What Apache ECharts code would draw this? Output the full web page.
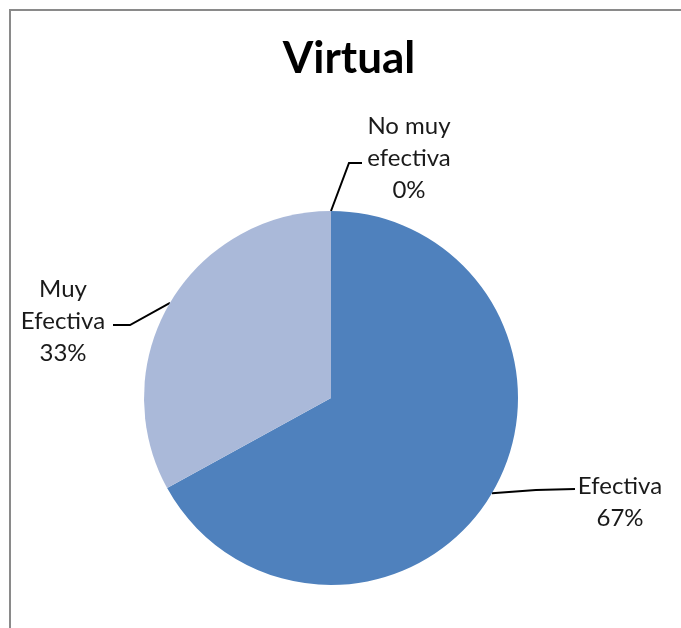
<!DOCTYPE html>
<html>
<head>
<meta charset="utf-8">
<script src="https://cdn.jsdelivr.net/npm/echarts@6/dist/echarts.min.js"></script>
<style>
  html, body { margin: 0; padding: 0; background: #fff; }
  #frame { position: absolute; left: 9px; top: 9px; width: 672px; height: 619px;
           border-left: 2px solid #8a8a8a; border-top: 2px solid #8a8a8a; }
  #chart { position: absolute; left: 0; top: 0; width: 681px; height: 628px; }
</style>
</head>
<body>
<div id="frame"></div>
<div id="chart"></div>
<script>
const chartTitle = 'Virtual';
const categories = ['Efectiva', 'Muy Efectiva', 'No muy efectiva'];
const values = [67, 33, 0];
const colors = ['#4F81BD', '#AAB9D9', '#9BBB59'];

const chart = echarts.init(document.getElementById('chart'), null, { renderer: 'canvas' });

// label placements (layout only)
const labelPos = [
  { x: 620, y: 502, line: [[536, 490], [575, 489]] },
  { x: 63, y: 321, line: [[130, 325], [113, 325]] },
  { x: 409, y: 158, line: [[349, 163], [362, 163]] }
];

chart.setOption({
  backgroundColor: 'transparent',
  animation: false,
  title: {
    text: chartTitle,
    left: 344, top: 32, textAlign: 'center',
    textStyle: { fontFamily: 'Lato', fontWeight: 'bold', fontSize: 44, color: '#000' }
  },
  series: [{
    type: 'pie',
    center: [331, 398],
    radius: 187,
    startAngle: 90,
    clockwise: true,
    stillShowZeroSum: true,
    minAngle: 0,
    avoidLabelOverlap: false,
    data: categories.map((c, i) => ({ name: c, value: values[i], itemStyle: { color: colors[i] } })),
    itemStyle: { borderWidth: 0 },
    label: {
      show: true,
      position: 'outside',
      formatter: p => {
        const n = p.name;
        const k = n.lastIndexOf(' ');
        const nm = k > 0 ? n.slice(0, k) + '\n' + n.slice(k + 1) : n;
        return nm + '\n' + Math.round(p.percent) + '%';
      },
      fontFamily: 'Lato',
      fontSize: 24,
      lineHeight: 32,
      color: '#1a1a1a',
      align: 'center'
    },
    labelLine: { show: true, length: 20, length2: 20, lineStyle: { color: '#000', width: 2 } },
    labelLayout: function (params) {
      const lp = labelPos[params.dataIndex];
      const start = params.labelLinePoints ? params.labelLinePoints[0] : lp.line[0];
      return {
        x: lp.x, y: lp.y, align: 'center', verticalAlign: 'middle',
        labelLinePoints: [start, lp.line[0], lp.line[1]]
      };
    },
    emphasis: { disabled: true }
  }]
});
</script>
</body>
</html>
